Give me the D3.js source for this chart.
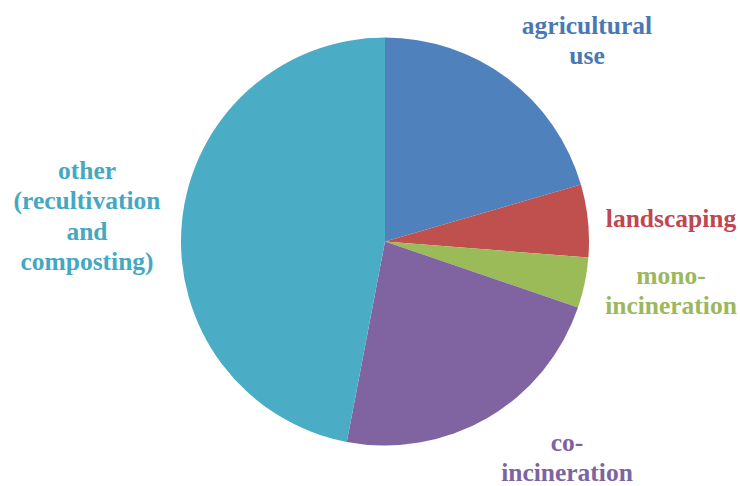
<!DOCTYPE html>
<html>
<head>
<meta charset="utf-8">
<script src="https://cdn.jsdelivr.net/npm/d3@7"></script>
</head>
<body style="margin:0">
<script>
// sludge disposal routes, share in percent
var categories = ['agricultural use', 'landscaping', 'mono-incineration', 'co-incineration', 'other'];
var values     = [20.5, 5.75, 4.0, 22.75, 47.0];
var labelLines = [
    ['agricultural', 'use'],
    ['landscaping'],
    ['mono-', 'incineration'],
    ['co-', 'incineration'],
    ['other', '(recultivation', 'and', 'composting)']
];

var sliceColors = ['#4f81bd', '#c0504d', '#9bbb59', '#8064a2', '#4bacc6'];
var textColors  = ['#4a78b4', '#c0464f', '#9bb85e', '#7d64a0', '#45a8c2'];

const width = 740, height = 486;
const cx = 385, cy = 241.5, radius = 204;
const fontSize = 25.5, lineH = 30.5;

// label block anchor (centre x, first baseline y), relative to pie centre
var labelAnchor = [
    [202, -208],
    [286, -15],
    [286, 42],
    [182, 209],
    [-298, -63]
];

var svg = d3.select('body').append('svg')
    .attr('width', width)
    .attr('height', height);

var g = svg.append('g')
    .attr('transform', 'translate(' + cx + ',' + cy + ')');

var pie = d3.pie().sort(null).value(function(d) { return d; });
var arc = d3.arc().innerRadius(0).outerRadius(radius);

g.selectAll('path')
    .data(pie(values))
    .enter().append('path')
    .attr('d', arc)
    .attr('fill', function(d, i) { return sliceColors[i]; });

var labels = g.selectAll('text')
    .data(categories)
    .enter().append('text')
    .style('font-family', '"Liberation Serif"', 'important')
    .style('font-weight', 'bold')
    .style('font-size', fontSize + 'px')
    .attr('text-anchor', 'middle')
    .attr('fill', function(d, i) { return textColors[i]; })
    .attr('transform', function(d, i) {
        return 'translate(' + labelAnchor[i][0] + ',' + labelAnchor[i][1] + ')';
    });

labels.selectAll('tspan')
    .data(function(d, i) { return labelLines[i]; })
    .enter().append('tspan')
    .attr('x', 0)
    .attr('y', function(d, j) { return j * lineH; })
    .text(function(d) { return d; });
</script>
</body>
</html>
